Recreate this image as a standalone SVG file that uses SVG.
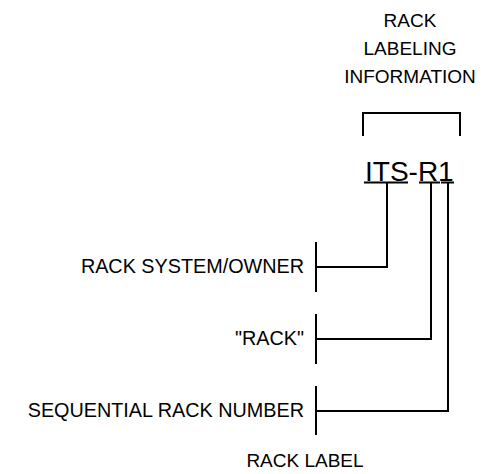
<svg xmlns="http://www.w3.org/2000/svg" width="487" height="474" viewBox="0 0 487 474">
<style>
.t{font-family:"Liberation Sans",Arial,sans-serif;font-size:19px;fill:#000}
.l{font-size:19.8px}
.big{font-family:"Liberation Sans",Arial,sans-serif;font-size:28px;fill:#000}
.ln{stroke:#000;stroke-width:2;fill:none;stroke-linecap:square}
</style>
<rect width="487" height="474" fill="#fff"/>
<g id="header">
<text class="t" x="410" y="27" text-anchor="middle">RACK</text>
<text class="t" x="410" y="55" text-anchor="middle">LABELING</text>
<text class="t" x="410" y="83" text-anchor="middle">INFORMATION</text>
<path class="ln" d="M363,135 V113 H460 V135"/>
</g>
<g id="label-code">
<text class="big" x="365" y="181">ITS-R1</text>
<path class="ln" d="M365,182.5 H407 M420,182.5 H439 M442,182.5 H453" stroke-linecap="butt"/>
</g>
<g id="owner">
<text class="t l" x="304" y="273" text-anchor="end">RACK SYSTEM/OWNER</text>
<path class="ln" d="M316,243 V291"/>
</g>
<g id="rack">
<text class="t l" x="304" y="345" text-anchor="end">"RACK"</text>
<path class="ln" d="M316,315 V363"/>
</g>
<g id="number">
<text class="t l" x="304" y="417" text-anchor="end">SEQUENTIAL RACK NUMBER</text>
<path class="ln" d="M316,387 V434"/>
</g>
<g id="rack-label">
<text class="t" x="305" y="467" text-anchor="middle">RACK LABEL</text>
</g>
<g id="connectors">
<path class="ln" d="M387,183 V267 H316"/>
<path class="ln" d="M431,183 V339 H316"/>
<path class="ln" d="M448,183 V411 H316"/>
</g>
</svg>
